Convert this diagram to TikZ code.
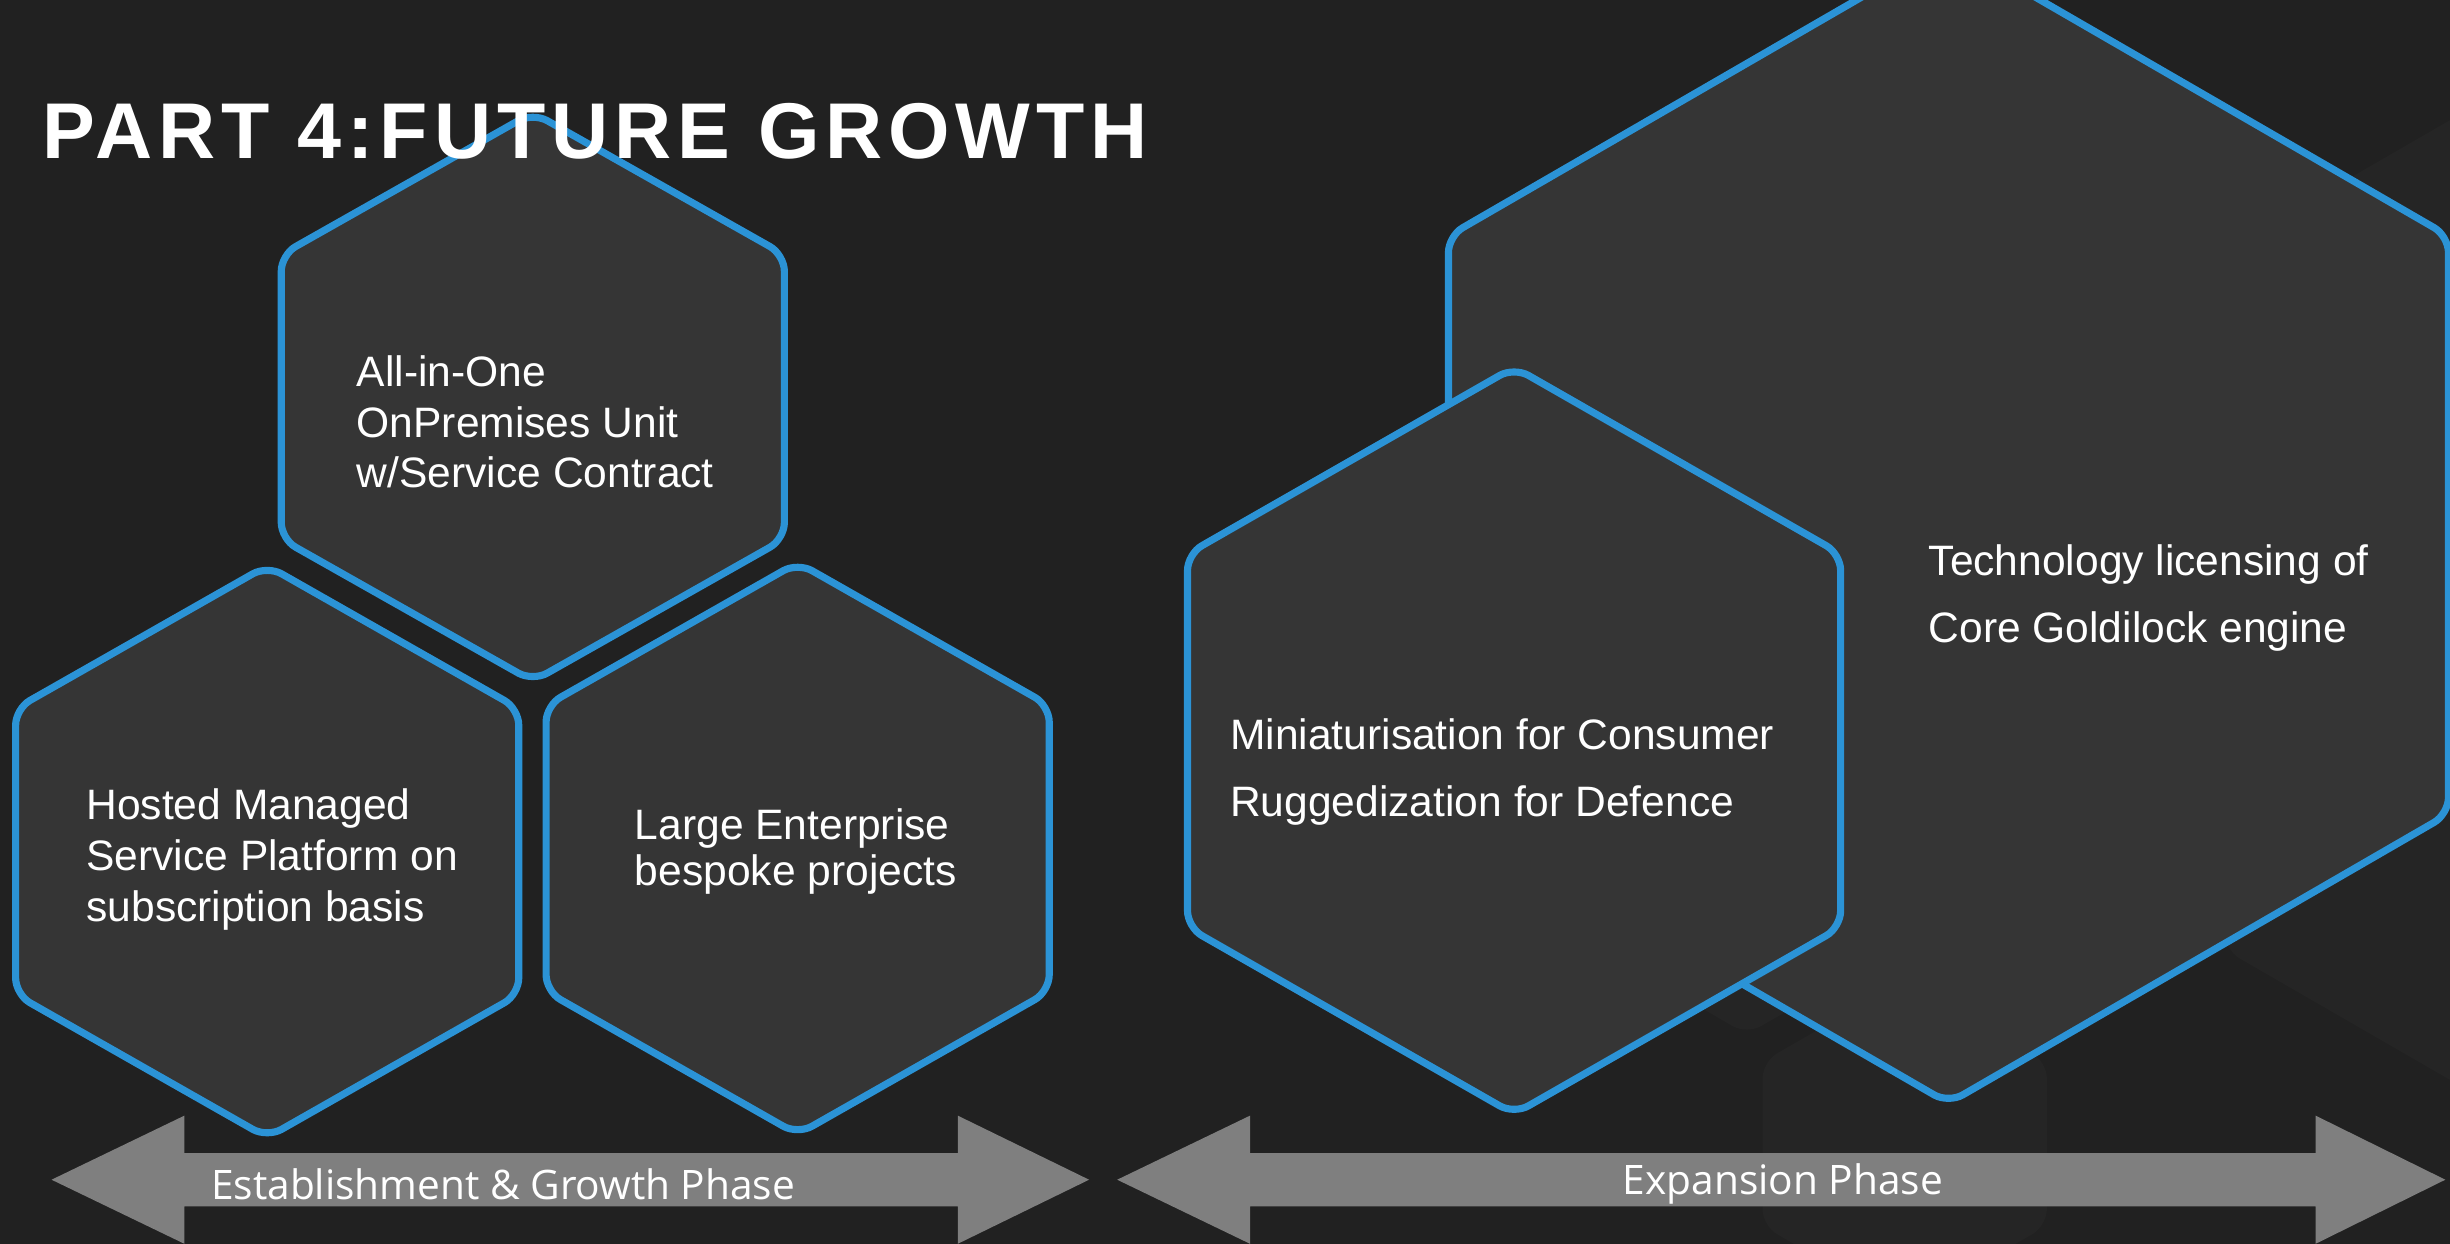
\documentclass[tikz,border=0pt]{standalone}
\usepackage{fontspec}
\setmainfont{Liberation Sans}
\newfontfamily\titlefont{Liberation Sans}[LetterSpace=7.5]
\newfontfamily\arrowfont{Open Sans}
\definecolor{bgc}{HTML}{212121}
\definecolor{hexfill}{HTML}{353535}
\definecolor{hexblue}{HTML}{2B93D6}
\definecolor{faint}{HTML}{252525}
\definecolor{arrowgrey}{HTML}{7F7F7F}
\newcommand\hexat[4]{(#1,#2-#4) -- (#1+#3,#2-#4/2) -- (#1+#3,#2+#4/2) -- (#1,#2+#4) -- (#1-#3,#2+#4/2) -- (#1-#3,#2-#4/2) -- cycle}
\tikzset{
  hexbox/.style={fill=hexfill, draw=hexblue, line width=2.6pt, rounded corners=6pt, line join=round},
  faintbox/.style={fill=faint, rounded corners=6pt},
  phasearrow/.style={fill=arrowgrey},
  hextext/.style={text=white, inner sep=0pt, align=left, anchor=west, font=\fontsize{15.5}{18.5}\selectfont},
  bigtext/.style={hextext, font=\fontsize{15.5}{24.4}\selectfont},
  phasetext/.style={text=white, inner sep=0pt, font=\arrowfont\fontsize{14.8}{16}\selectfont},
}
\begin{document}
\begin{tikzpicture}[x=0.02cm, y=-0.02cm]
\useasboundingbox (0,0) rectangle (1568,796);
\clip (0,0) rectangle (1568,796);
\fill[bgc] (0,0) rectangle (1568,796);
% faint background shapes
\fill[faintbox] \hexat{1812}{384}{388}{448};
\fill[faintbox] \hexat{1118}{430}{200}{232};
\fill[faintbox] \hexat{1219}{732}{91}{105};
% hexagons
\draw[hexbox] \hexat{1247}{336}{320}{370};
\draw[hexbox] \hexat{969}{474}{209}{239};
\draw[hexbox] \hexat{341}{254}{161}{182};
\draw[hexbox] \hexat{171}{545}{161}{183};
\draw[hexbox] \hexat{510.5}{543}{161}{183};
% phase arrows
\fill[phasearrow] (33,755) -- (118,714) -- (118,738) -- (613,738) -- (613,714) -- (697,755) -- (613,796) -- (613,772) -- (118,772) -- (118,796) -- cycle;
\fill[phasearrow] (715,755) -- (800,714) -- (800,738) -- (1482,738) -- (1482,714) -- (1565,755) -- (1482,796) -- (1482,772) -- (800,772) -- (800,796) -- cycle;
\node[phasetext] (p1) at (322,758) {Establishment \& Growth Phase};
\node[phasetext] (p2) at (1141,758) {Expansion Phase};
% title
\node[text=white, inner sep=0pt, anchor=base west, font=\titlefont\bfseries\fontsize{28.8}{32}\selectfont] (title) at (27,101.5) {PART 4:FUTURE GROWTH};
% texts
\node[hextext] (ta) at (228,270) {All-in-One\\OnPremises Unit\\w/Service Contract};
\node[hextext] (tb) at (55,550) {Hosted Managed\\Service Platform on\\subscription basis};
\node[hextext, font=\fontsize{15.5}{17}\selectfont] (tc) at (406,545) {Large Enterprise\\bespoke projects};
\node[bigtext] (td) at (787,494) {Miniaturisation for Consumer\\Ruggedization for Defence};
\node[bigtext] (te) at (1234,383) {Technology licensing of\\Core Goldilock engine};
\end{tikzpicture}
\end{document}
